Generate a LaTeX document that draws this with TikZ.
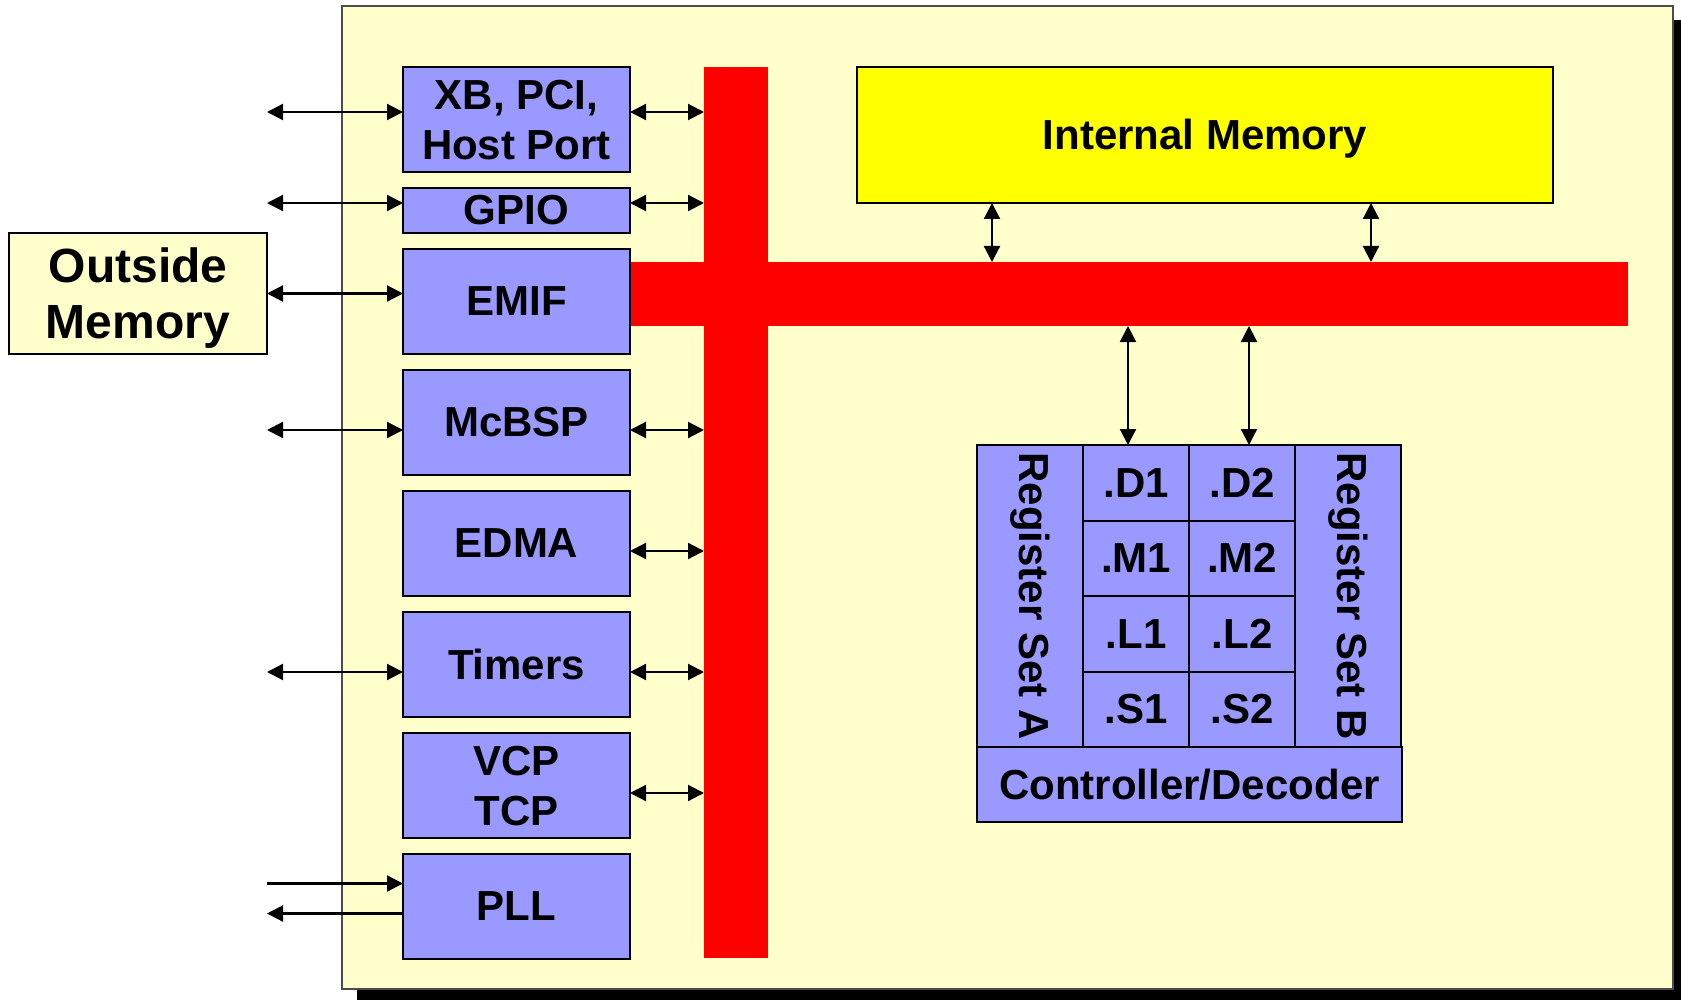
\documentclass[tikz,border=0pt]{standalone}
\usepackage{fontspec}
\setmainfont{Liberation Sans}
\usetikzlibrary{positioning,chains,arrows.meta}
\definecolor{chipbg}{HTML}{FFFFCC}
\definecolor{periph}{HTML}{9999FF}
\definecolor{busred}{HTML}{FF0000}
\definecolor{memyel}{HTML}{FFFF00}

\begin{document}
\begin{tikzpicture}[x=0.5pt,y=-0.5pt,
  font=\fontsize{21pt}{25pt}\selectfont\bfseries,
  node distance = 8pt,
  start chain = going below,
  blk/.style = {draw,line width=1pt,fill=periph,minimum width=113.5pt,
  minimum height=52.5pt,inner sep=0pt,outer sep=0pt,on chain,align=center},
  twoline/.style = {text height=40pt,text depth=0pt},
  unit/.style = {draw,line width=1pt,fill=periph,minimum width=53pt,
  minimum height=37.75pt,inner sep=0pt,outer sep=0pt},
  regset/.style = {unit,minimum height=151pt},
  bus/.style = {fill=busred,inner sep=0pt,outer sep=0pt},
  link/.style = {line width=1.1pt,>={Triangle[length=8pt,width=8pt]}}]
 \useasboundingbox (0,0) rectangle (1681,1000);
 % chip with its shadow
 \fill[black] (357,20) rectangle (1681,1000);
 \filldraw[fill=chipbg,draw=black!70,line width=0.6pt] (342,6) rectangle (1673,989);
 % buses
 \node[bus,minimum width=32pt,minimum height=445.5pt] (vbus) at (736,512.5) {};
 \node[bus,minimum width=499pt,minimum height=32pt] (hbus) at (1129,294) {};
 % peripherals
 \node[blk,twoline] (xb) at (516.5,119.5) {XB, PCI,\\Host Port};
 \node[blk,minimum height=22.5pt] (gpio) {GPIO};
 \node[blk] (emif)   {EMIF};
 \node[blk] (mcbsp)  {McBSP};
 \node[blk] (edma)   {EDMA};
 \node[blk] (timers) {Timers};
 \node[blk,twoline] (vcp) {VCP\\TCP};
 \node[blk] (pll)    {PLL};
 \node[draw,line width=1pt,fill=chipbg,minimum width=129pt,minimum height=60.5pt,
  inner sep=0pt,outer sep=0pt,align=center,text height=45.2pt,text depth=0pt,
  font=\fontsize{24pt}{28pt}\selectfont\bfseries]
  (outmem) at (138,293.5) {Outside\\Memory};
 \node[draw,line width=1pt,fill=memyel,minimum width=348pt,minimum height=68pt,
  inner sep=0pt,outer sep=0pt,text height=15pt,text depth=0pt]
  (intmem) at (1205,135) {Internal Memory};
 % CPU core
 \node[regset] (rega) at (1030,596) {\rotatebox{-90}{Register Set A}};
 \node[unit,anchor=north west] (d1) at (rega.north east) {.D1};
 \node[unit,below=0pt of d1] (m1) {.M1};
 \node[unit,below=0pt of m1] (l1) {.L1};
 \node[unit,below=0pt of l1] (s1) {.S1};
 \node[unit,right=0pt of d1] (d2) {.D2};
 \node[unit,below=0pt of d2] (m2) {.M2};
 \node[unit,below=0pt of m2] (l2) {.L2};
 \node[unit,below=0pt of l2] (s2) {.S2};
 \node[regset,anchor=north west] (regb) at (d2.north east) {\rotatebox{-90}{Register Set B}};
 \node[unit,anchor=north west,minimum width=212.5pt,minimum height=37.5pt,
  text height=15pt,text depth=0pt] (ctrl) at (rega.south west) {Controller/Decoder};
 \begin{scope}[link,<->]
  \draw ([yshift=3.75pt]xb.west -| outmem.east) -- ([yshift=3.75pt]xb.west);
  \draw ([yshift=3.75pt]gpio.west -| outmem.east) -- ([yshift=3.75pt]gpio.west);
  \draw (outmem.east) -- (outmem.east -| emif.west);
  \draw ([yshift=-3.75pt]mcbsp.west -| outmem.east) -- ([yshift=-3.75pt]mcbsp.west);
  \draw ([yshift=-3.75pt]timers.west -| outmem.east) -- ([yshift=-3.75pt]timers.west);
  \draw ([yshift=3.75pt]xb.east) -- ([yshift=3.75pt]xb.east -| vbus.west);
  \draw ([yshift=3.75pt]gpio.east) -- ([yshift=3.75pt]gpio.east -| vbus.west);
  \draw ([yshift=-3.75pt]mcbsp.east) -- ([yshift=-3.75pt]mcbsp.east -| vbus.west);
  \draw ([yshift=-3.75pt]edma.east) -- ([yshift=-3.75pt]edma.east -| vbus.west);
  \draw ([yshift=-3.75pt]timers.east) -- ([yshift=-3.75pt]timers.east -| vbus.west);
  \draw ([yshift=-3.75pt]vcp.east) -- ([yshift=-3.75pt]vcp.east -| vbus.west);
  \draw ([xshift=-106.5pt]intmem.south) -- ([xshift=-106.5pt]intmem.south |- hbus.north);
  \draw ([xshift=83pt]intmem.south) -- ([xshift=83pt]intmem.south |- hbus.north);
  \draw ([xshift=-4pt]d1.north |- hbus.south) -- ([xshift=-4pt]d1.north);
  \draw ([xshift=3.5pt]d2.north |- hbus.south) -- ([xshift=3.5pt]d2.north);
 \end{scope}
 \draw[link,->] ([yshift=11.5pt]pll.west -| outmem.east) -- ([yshift=11.5pt]pll.west);
 \draw[link,<-] ([yshift=-3.5pt]pll.west -| outmem.east) -- ([yshift=-3.5pt]pll.west);
\end{tikzpicture}
\end{document}
